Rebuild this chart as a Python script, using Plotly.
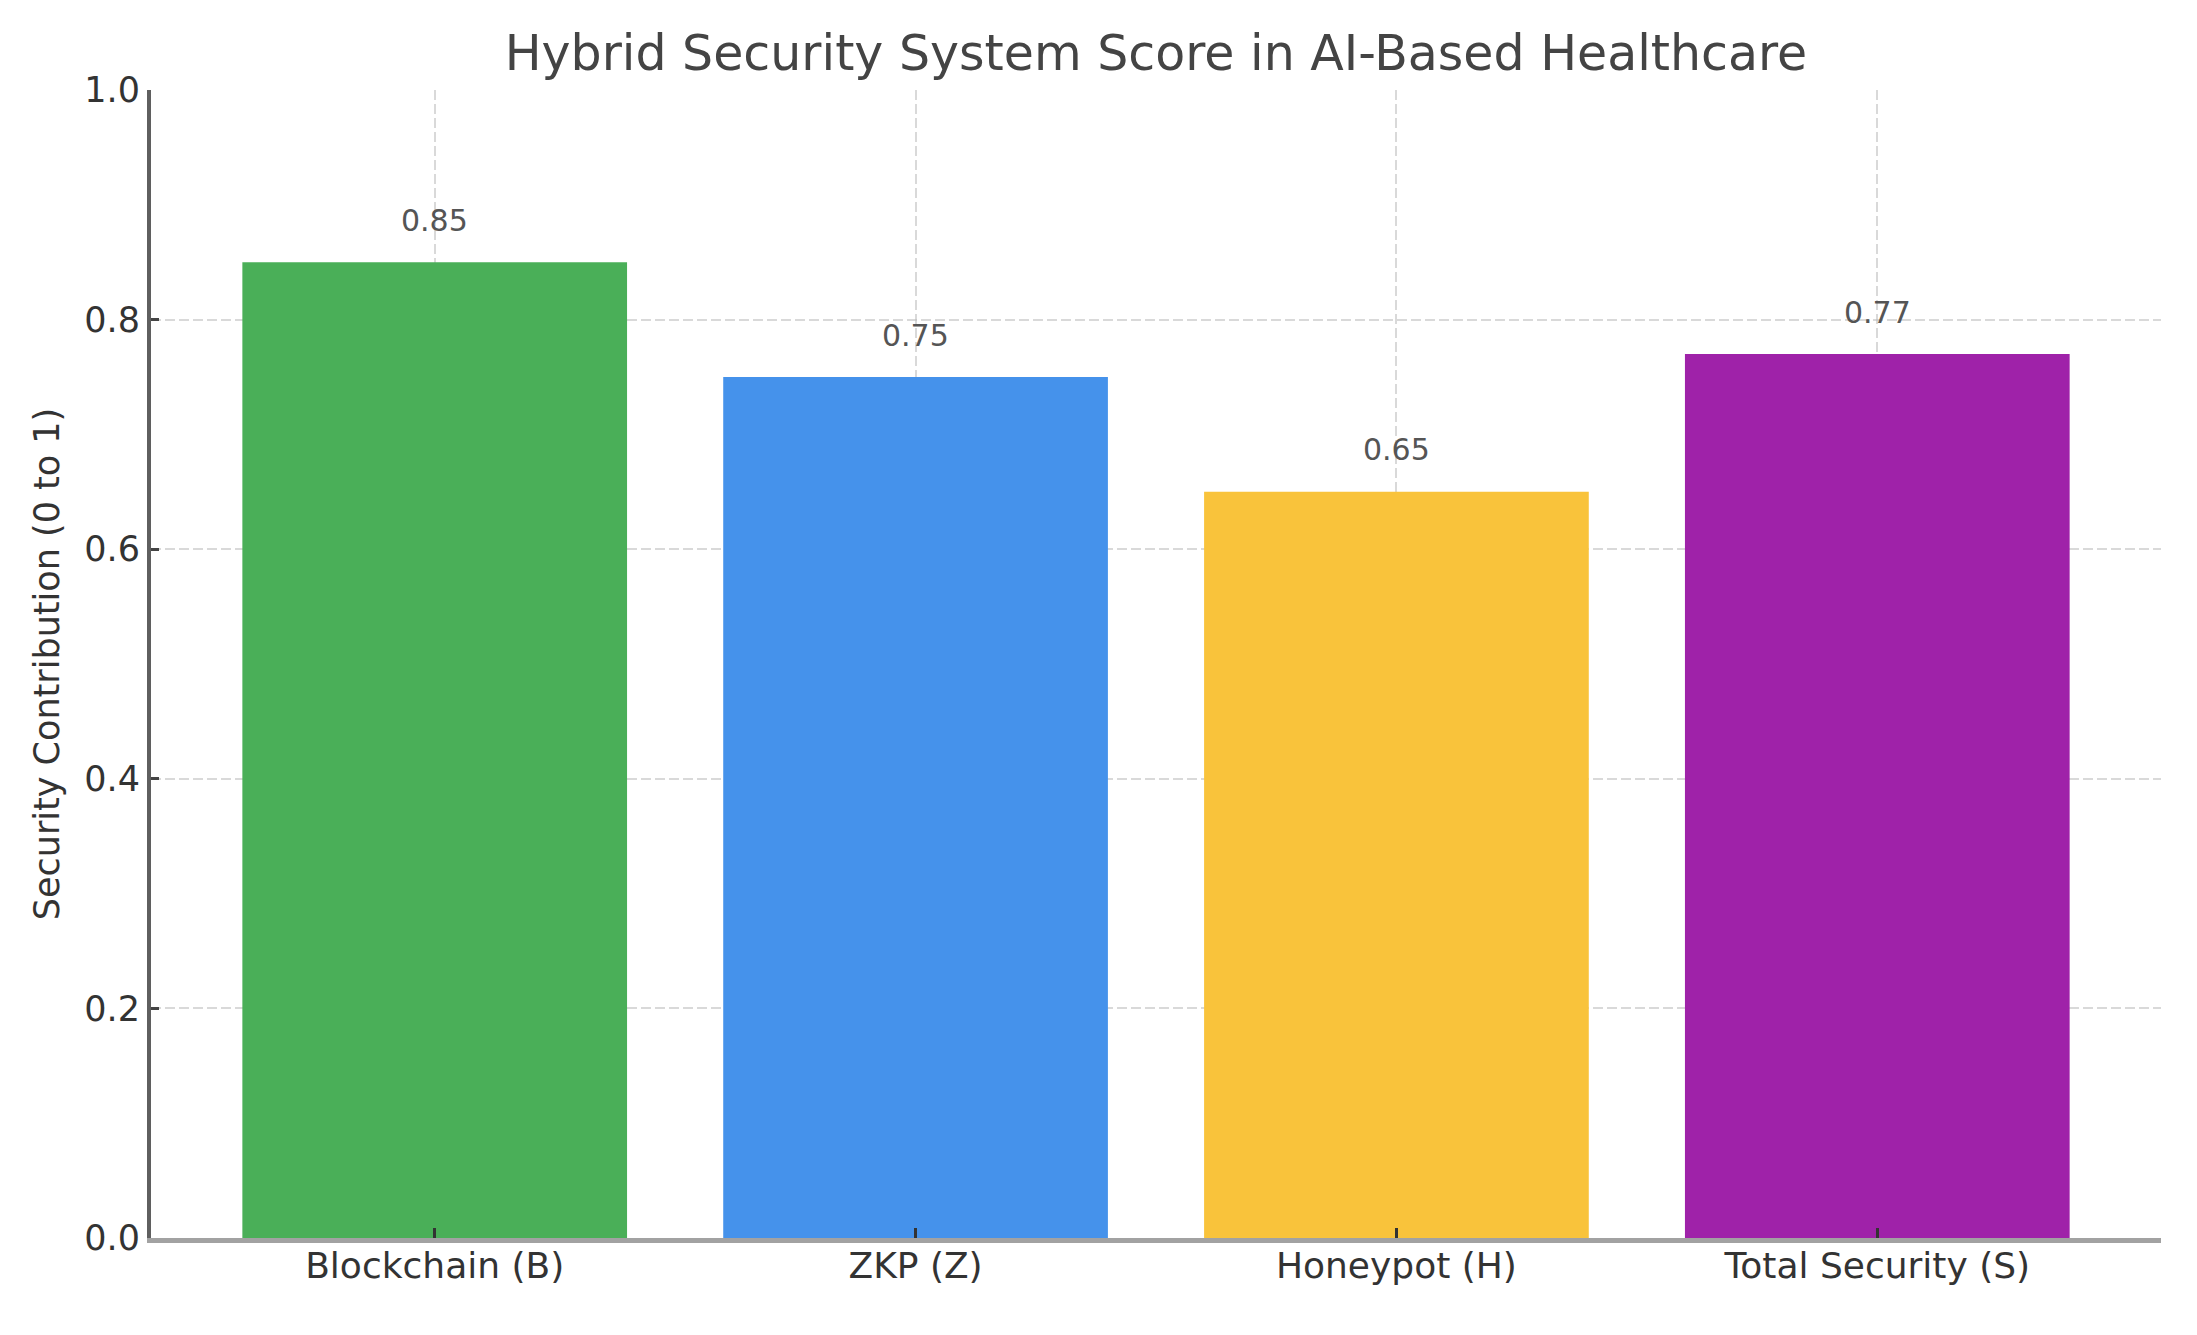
import plotly.graph_objects as go

categories = ["Blockchain (B)", "ZKP (Z)", "Honeypot (H)", "Total Security (S)"]
scores = [0.85, 0.75, 0.65, 0.77]
bar_colors = ["#4AAF58", "#4592EB", "#F9C33B", "#9F22A9"]
y_ticks = [0.0, 0.2, 0.4, 0.6, 0.8, 1.0]
y_tick_labels = ["0.0", "0.2", "0.4", "0.6", "0.8", "1.0"]
value_labels = [f"{v:.2f}" for v in scores]

FONT = "DejaVu Sans"
W, H = 2181, 1319

fig = go.Figure()
fig.add_trace(go.Bar(
    x=categories,
    y=scores,
    width=0.8,
    marker=dict(color=bar_colors, line=dict(width=0)),
    hoverinfo="skip",
))

for c, v, t in zip(categories, scores, value_labels):
    fig.add_annotation(
        x=c, y=v, text=t, showarrow=False,
        xref="x", yref="y", yanchor="middle", yshift=42,
        font=dict(family=FONT, size=30, color="#555555"),
    )

grid_color = "rgba(185,185,185,0.55)"

fig.update_layout(
    width=W, height=H,
    margin=dict(l=143, r=28, t=82, b=89),
    paper_bgcolor="white", plot_bgcolor="white",
    showlegend=False,
    title=dict(
        text="Hybrid Security System Score in AI-Based Healthcare",
        x=0.5, xref="paper", xanchor="center",
        y=1 - 45 / H, yref="container", yanchor="middle",
        font=dict(family=FONT, size=49, color="#444444"),
    ),
    xaxis=dict(
        type="category",
        range=[-0.59, 3.59],
        showgrid=True, gridcolor=grid_color, gridwidth=2, griddash="10px,4px",
        showline=True, linecolor="rgba(70,70,70,0.5)", linewidth=5,
        ticks="inside", ticklen=10, tickwidth=3, tickcolor="#333333",
        tickfont=dict(family=FONT, size=36, color="#333333"),
        ticklabelstandoff=-8,
        layer="above traces",
        zeroline=False,
        automargin=False,
    ),
    yaxis=dict(
        range=[0, 1.0],
        tickvals=y_ticks, ticktext=y_tick_labels,
        showgrid=True, gridcolor=grid_color, gridwidth=2, griddash="10px,4px",
        showline=True, linecolor="#5f5f5f", linewidth=4,
        ticks="inside", ticklen=8, tickwidth=3, tickcolor="#444444",
        tickfont=dict(family=FONT, size=35, color="#333333"),
        title=dict(text="Security Contribution (0 to 1)", standoff=15,
                   font=dict(family=FONT, size=35, color="#333333")),
        layer="above traces",
        zeroline=False,
        automargin=False,
    ),
)

fig.write_html("out.html")
